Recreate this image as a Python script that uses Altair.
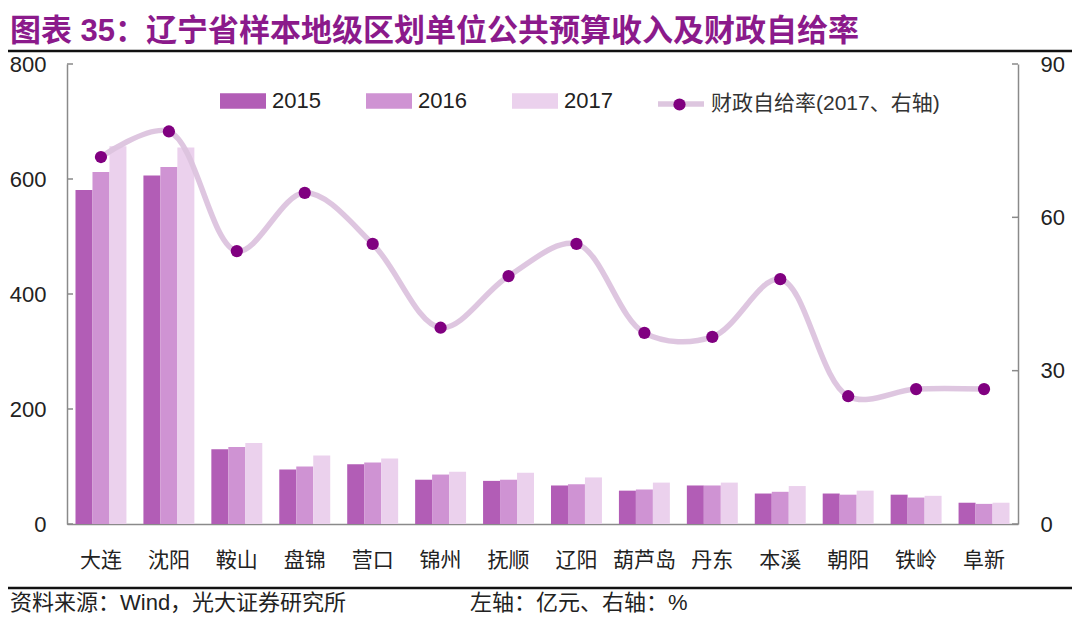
import altair as alt
import pandas as pd

cities = ["大连", "沈阳", "鞍山", "盘锦", "营口", "锦州", "抚顺", "辽阳", "葫芦岛", "丹东", "本溪", "朝阳", "铁岭", "阜新"]
years = ["2015", "2016", "2017"]
rev_2015 = [581, 606, 130, 95, 104, 77, 75, 67, 58, 67, 53, 53, 51, 37]
rev_2016 = [612, 621, 134, 100, 107, 86, 77, 69, 60, 67, 56, 51, 46, 35]
rev_2017 = [657, 655, 141, 119, 114, 91, 89, 81, 72, 72, 66, 58, 49, 37]
ratio_2017 = [71.8, 76.8, 53.4, 64.8, 54.8, 38.4, 48.5, 54.8, 37.4, 36.6, 47.9, 25.0, 26.4, 26.4]
left_ticks = [0, 200, 400, 600, 800]
right_ticks = [0, 30, 60, 90]
title_text = "图表 35：辽宁省样本地级区划单位公共预算收入及财政自给率"
line_label = "财政自给率(2017、右轴)"
footer_left = "资料来源：Wind，光大证券研究所"
footer_right = "左轴：亿元、右轴：%"

bar_colors = ["#b25db6", "#cf93d3", "#ebd1ed"]
line_color = "#dcc3de"
dot_color = "#800080"
axis_color = "#8a8a8a"
NUM_FONT = "Liberation Sans"
CJK_FONT = "Liberation Sans, Noto Sans CJK SC"

W, H = 951, 460

rows = []
for y, vals in zip(years, [rev_2015, rev_2016, rev_2017]):
    for c, v in zip(cities, vals):
        rows.append({"city": c, "year": y, "value": v})
bars_df = pd.DataFrame(rows)
ratio_df = pd.DataFrame({"city": cities, "ratio": ratio_2017,
                         "sl": [line_label] * len(cities), "sp": [line_label] * len(cities)})

x_axis = alt.Axis(ticks=False, labelFontSize=21, labelFont="Noto Sans CJK SC",
                  labelColor="#222222", labelPadding=25, domainColor=axis_color,
                  domainWidth=1.5, labelAngle=0)
x_scale = alt.Scale(paddingInner=0.25, paddingOuter=0.125)

left_axis = alt.Axis(values=left_ticks, ticks=False, grid=False, labelFontSize=22,
                     labelFont=NUM_FONT, labelColor="#222222", labelPadding=21,
                     domainColor=axis_color, domainWidth=1.5)
right_axis = alt.Axis(orient="right", values=right_ticks, ticks=False, grid=False,
                      labelFontSize=22, labelFont=NUM_FONT, labelColor="#222222",
                      labelPadding=22, domainColor=axis_color, domainWidth=1.5)
left_scale = alt.Scale(domain=[0, 800])
right_scale = alt.Scale(domain=[0, 90])

bars = alt.Chart(bars_df).mark_bar().encode(
    x=alt.X("city:N", sort=cities, title=None, scale=x_scale, axis=x_axis),
    xOffset=alt.XOffset("year:N", sort=years),
    y=alt.Y("value:Q", scale=left_scale, title=None, axis=left_axis),
    color=alt.Color("year:N", sort=years,
                    scale=alt.Scale(domain=years, range=bar_colors),
                    legend=alt.Legend(orient="none", legendX=153, legendY=14, direction="horizontal",
                                      title=None, symbolType="M-1,-0.34H1V0.34H-1Z", symbolSize=2116,
                                      symbolStrokeWidth=0, labelFontSize=22, labelFont=NUM_FONT,
                                      labelColor="#222222", labelOffset=6, columnPadding=45,
                                      padding=0)),
)

lt_df = pd.DataFrame({"v": left_ticks})
lticks = alt.Chart(lt_df).mark_rule(color=axis_color, strokeWidth=1.5).encode(
    y=alt.Y("v:Q", scale=left_scale, title=None, axis=left_axis),
    x=alt.value(0), x2=alt.value(6))

left = alt.layer(bars, lticks)

line = alt.Chart(ratio_df).mark_line(interpolate="catmull-rom", strokeWidth=5.5, opacity=0.95).encode(
    x=alt.X("city:N", sort=cities, title=None, scale=x_scale, axis=x_axis),
    y=alt.Y("ratio:Q", scale=right_scale, title=None, axis=right_axis),
    stroke=alt.Stroke("sl:N", scale=alt.Scale(range=[line_color]),
                      legend=alt.Legend(orient="none", legendX=588, legendY=14, title=None,
                                        symbolType="stroke", symbolSize=2116, symbolStrokeWidth=5.5,
                                        labelFontSize=21, labelFont=CJK_FONT, labelColor="#333333",
                                        labelOffset=4, labelLimit=400, padding=0)),
)
points = alt.Chart(ratio_df).mark_point(filled=True, size=150, opacity=1).encode(
    x=alt.X("city:N", sort=cities, title=None, scale=x_scale, axis=x_axis),
    y=alt.Y("ratio:Q", scale=right_scale, title=None, axis=right_axis),
    fill=alt.Fill("sp:N", scale=alt.Scale(range=[dot_color]),
                  legend=alt.Legend(orient="none", legendX=602, legendY=30, title=None,
                                    symbolType="circle", symbolSize=150, symbolStrokeWidth=0,
                                    labelExpr="''", labelFontSize=21, padding=0)),
)
rt_df = pd.DataFrame({"v": right_ticks})
rticks = alt.Chart(rt_df).mark_rule(color=axis_color, strokeWidth=1.5).encode(
    y=alt.Y("v:Q", scale=right_scale, title=None, axis=right_axis),
    x=alt.value(W - 6), x2=alt.value(W))

right = alt.layer(line, points, rticks)

deco_df = pd.DataFrame({"a": [footer_left], "b": [footer_right]})
top_rule = alt.Chart(deco_df).mark_rule(color="#111111", strokeWidth=2.5).encode(
    x=alt.value(-70), x2=alt.value(W + 60), y=alt.value(-13))
bottom_rule = alt.Chart(deco_df).mark_rule(color="#111111", strokeWidth=2.5).encode(
    x=alt.value(-70), x2=alt.value(W + 60), y=alt.value(H + 64))
foot1 = alt.Chart(deco_df).mark_text(align="left", baseline="middle", fontSize=22,
                                     font=CJK_FONT, color="#222222").encode(
    text="a:N", x=alt.value(-57), y=alt.value(H + 79))
foot2 = alt.Chart(deco_df).mark_text(align="left", baseline="middle", fontSize=22,
                                     font=CJK_FONT, color="#222222").encode(
    text="b:N", x=alt.value(403), y=alt.value(H + 79))

chart = alt.layer(left, right, top_rule, bottom_rule, foot1, foot2).resolve_scale(
    y="independent"
).properties(
    width=W, height=H,
    title=alt.TitleParams(title_text, anchor="start", fontSize=31, font=CJK_FONT,
                          fontWeight="bold", color="#8b1a8b", dx=-57, offset=2, frame="group"),
    autosize=alt.AutoSizeParams(type="none"),
    padding={"left": 59, "top": 56, "right": 54, "bottom": 90},
).configure_view(stroke=None)

chart.save("out.html", embed_options={"renderer": "svg", "actions": False})
